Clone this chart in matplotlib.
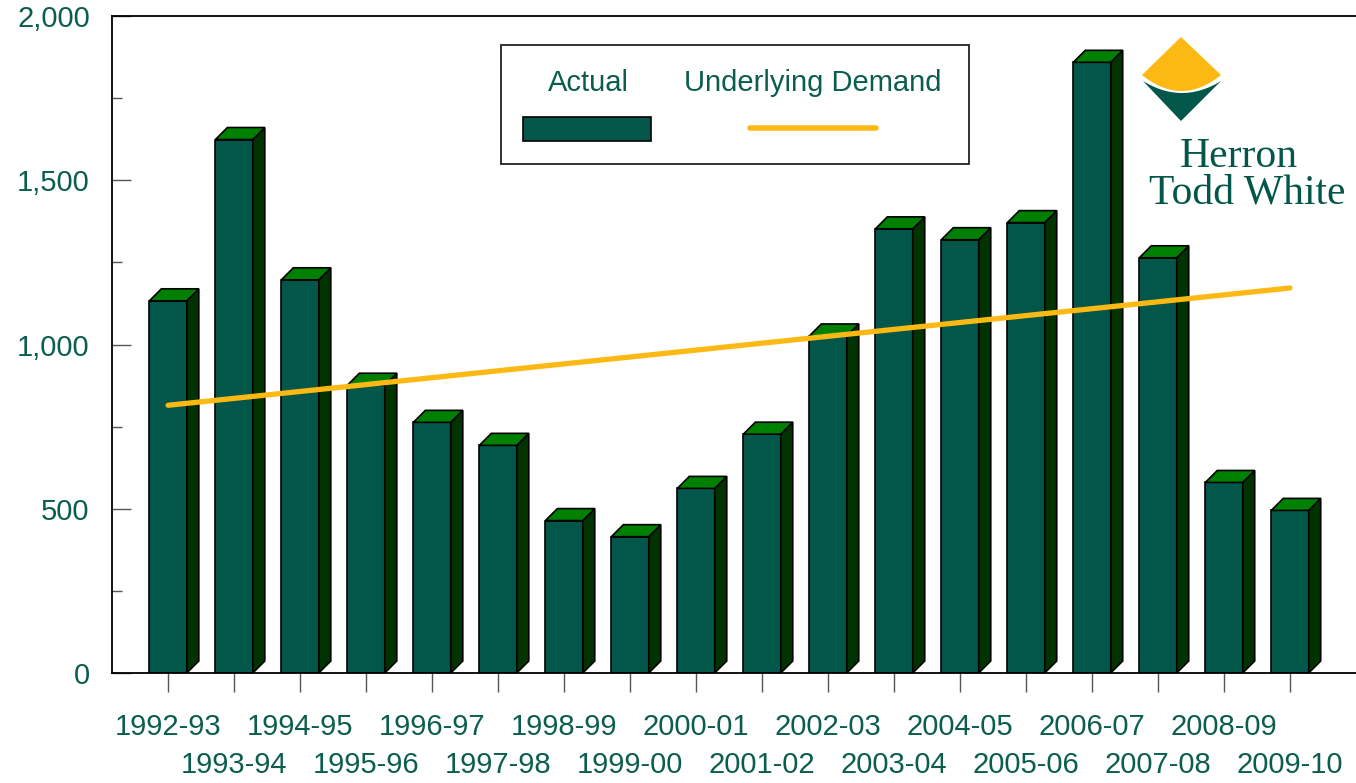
import numpy as np
import matplotlib.pyplot as plt
from matplotlib.patches import Polygon, Rectangle
from matplotlib.lines import Line2D
from matplotlib.ticker import MultipleLocator, FuncFormatter

years = ["1992-93", "1993-94", "1994-95", "1995-96", "1996-97", "1997-98",
         "1998-99", "1999-00", "2000-01", "2001-02", "2002-03", "2003-04",
         "2004-05", "2005-06", "2006-07", "2007-08", "2008-09", "2009-10"]
actual = [1133, 1624, 1197, 876, 763, 693, 464, 415, 562, 727,
          1026, 1352, 1319, 1371, 1859, 1264, 580, 495]
# underlying demand is a straight trend line, first and last year
demand_years = [0, 17]
demand = [815, 1172]

front = "#02574A"
top_col = "#008000"
side_col = "#003300"
orange = "#FDB913"
txt = "#0B5E4D"

W, H = 1356, 783
fig = plt.figure(figsize=(W / 100, H / 100), dpi=100)
plt.rcParams["font.family"] = ["Liberation Sans", "DejaVu Sans"]

# axes box in pixels: left 112, bottom 673, top 16
ax = fig.add_axes([112 / W, (H - 673) / H, (W - 112) / W, (673 - 16) / H])
ax.set_xlim(-0.85, 18.0)
ax.set_ylim(0, 2000)

x = np.arange(len(years))
bw = 0.567
dx = 12 / 66
dy = 12 * 2000 / 657

for xi, v in zip(x, actual):
    ax.bar(xi, v, width=bw, color=front, edgecolor="black", linewidth=1.2, zorder=2)
    r = xi + bw / 2
    l = xi - bw / 2
    ax.add_patch(Polygon([(r, 0), (r + dx, dy), (r + dx, v + dy), (r, v)],
                         closed=True, facecolor=side_col, edgecolor="black",
                         linewidth=1.2, zorder=2))
    ax.add_patch(Polygon([(l, v), (r, v), (r + dx, v + dy), (l + dx, v + dy)],
                         closed=True, facecolor=top_col, edgecolor="black",
                         linewidth=1.2, zorder=2))

ax.plot(demand_years, demand, color=orange, linewidth=3.8,
        solid_capstyle="round", zorder=3)

# spines
for s in ["left", "bottom", "top"]:
    ax.spines[s].set_linewidth(1.3)
    ax.spines[s].set_color("black")
ax.spines["right"].set_visible(False)

ax.yaxis.set_major_locator(MultipleLocator(500))
ax.yaxis.set_minor_locator(MultipleLocator(250))
ax.yaxis.set_major_formatter(FuncFormatter(lambda v, p: f"{int(v):,}"))
ax.tick_params(axis="y", which="major", direction="in", length=14, width=1,
               color="#555555", labelsize=21, labelcolor=txt, pad=16)
ax.tick_params(axis="y", which="minor", direction="in", length=7, width=1,
               color="#555555")

ax.set_xticks(x)
ax.set_xticklabels([])
ax.tick_params(axis="x", direction="out", length=14, width=1, color="#555555")
# staggered year labels, two rows
for i, y in enumerate(years):
    off = -39 if i % 2 == 0 else -66
    ax.annotate(y, xy=(i, 0), xycoords=("data", "axes fraction"),
                xytext=(0, off), textcoords="offset points",
                ha="center", va="center", fontsize=21, color=txt,
                annotation_clip=False)


def fx(px):
    return px / W


def fy(py):
    return (H - py) / H


# legend drawn by hand
fig.add_artist(Rectangle((fx(501), fy(164)), fx(969) - fx(501), fy(45) - fy(164),
                         transform=fig.transFigure, facecolor="white",
                         edgecolor="#222222", linewidth=1.3, zorder=5))
fig.add_artist(Rectangle((fx(523), fy(141)), fx(651) - fx(523), fy(117) - fy(141),
                         transform=fig.transFigure, facecolor=front,
                         edgecolor="black", linewidth=1.2, zorder=6))
fig.add_artist(Line2D([fx(750), fx(876)], [fy(128), fy(128)],
                      transform=fig.transFigure, color=orange, linewidth=4,
                      solid_capstyle="round", zorder=6))
fig.text(fx(588), fy(83), "Actual", ha="center", va="center", fontsize=21,
         color=txt, zorder=7)
fig.text(fx(813), fy(83), "Underlying Demand", ha="center", va="center",
         fontsize=21, color=txt, zorder=7)

# logo
t = np.linspace(0, 1, 30)
cx = 1181
yel_curve = [(1221 - 79 * s, 75 + 16 * 4 * s * (1 - s)) for s in t]
yel = [(cx, 37), (1221, 75)] + yel_curve[1:]
fig.add_artist(Polygon([(fx(a), fy(b)) for a, b in yel], closed=True,
                       transform=fig.transFigure, facecolor=orange,
                       edgecolor="none", zorder=6))
grn_curve = [(1143 + 78 * s, 81 + 12 * 4 * s * (1 - s)) for s in t]
grn = grn_curve + [(cx, 121)]
fig.add_artist(Polygon([(fx(a), fy(b)) for a, b in grn], closed=True,
                       transform=fig.transFigure, facecolor=front,
                       edgecolor="none", zorder=6))
fig.text(fx(1239), fy(167), "Herron", ha="center", va="baseline",
         fontsize=30, color=front, family=["Liberation Serif", "DejaVu Serif"])
fig.text(fx(1247), fy(203), "Todd White", ha="center", va="baseline",
         fontsize=30, color=front, family=["Liberation Serif", "DejaVu Serif"])

fig.savefig("out.png", dpi=100)
